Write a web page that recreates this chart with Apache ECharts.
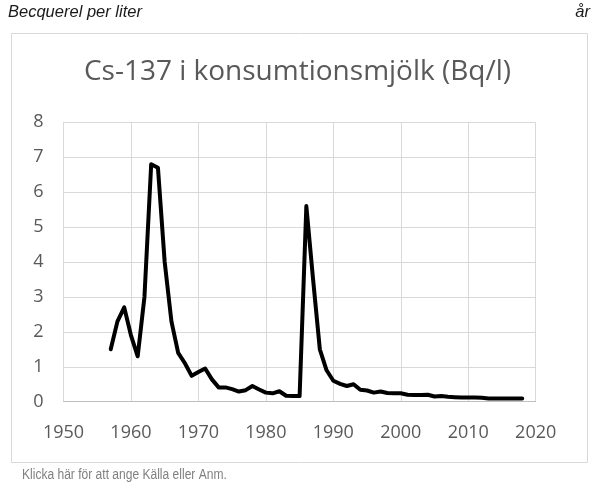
<!DOCTYPE html>
<html><head><meta charset="utf-8">
<script src="https://cdn.jsdelivr.net/npm/echarts@6/dist/echarts.min.js"></script>
<style>html,body{margin:0;padding:0;background:#fff}#c{width:595px;height:486px}</style>
</head><body><div id="c"></div>
<script>
var years = [1957,1958,1959,1960,1961,1962,1963,1964,1965,1966,1967,1968,1969,1970,1971,1972,1973,1974,1975,1976,1977,1978,1979,1980,1981,1982,1983,1984,1985,1986,1987,1988,1989,1990,1991,1992,1993,1994,1995,1996,1997,1998,1999,2000,2001,2002,2003,2004,2005,2006,2007,2008,2009,2010,2011,2012,2013,2014,2015,2016,2017,2018];
var values = [1.5,2.3,2.7,1.9,1.3,3.0,6.8,6.7,4.0,2.3,1.4,1.1,0.74,0.85,0.95,0.64,0.41,0.41,0.36,0.29,0.33,0.45,0.35,0.26,0.24,0.3,0.17,0.16,0.16,5.6,3.5,1.5,0.9,0.6,0.51,0.45,0.5,0.34,0.32,0.26,0.29,0.25,0.24,0.24,0.2,0.19,0.19,0.2,0.15,0.16,0.14,0.13,0.12,0.12,0.12,0.11,0.09,0.09,0.09,0.09,0.09,0.09];
var titleText = 'Cs-137 i konsumtionsmjölk (Bq/l)';
var unitText = 'Becquerel per liter';
var xUnitText = 'år';
var footerText = 'Klicka här för att ange Källa eller Anm.';

var chart = echarts.init(document.getElementById('c'), null, {renderer:'canvas'});
var seriesData = years.map(function(y,i){return [y, values[i]];});
var lab = {color:'#595959', fontSize:18, fontFamily:'Open Sans'};
chart.setOption({
  animation:false,
  backgroundColor:'#ffffff',
  title:{text:titleText, left:'center', top:53, textStyle:{fontFamily:'Open Sans', fontWeight:'normal', fontSize:28, color:'#595959'}},
  grid:{left:63.5, right:59.3, top:122.3, bottom:84.3, containLabel:false},
  xAxis:{type:'value', min:1950, max:2020, interval:10,
    axisLine:{show:true, lineStyle:{color:'#bfbfbf', width:1}},
    axisTick:{show:false},
    axisLabel:Object.assign({margin:22, formatter:function(v){return String(v);}}, lab),
    splitLine:{show:true, lineStyle:{color:'#d9d9d9', width:1}}},
  yAxis:{type:'value', min:0, max:8, interval:1,
    axisLine:{show:false}, axisTick:{show:false},
    axisLabel:Object.assign({margin:20}, lab),
    splitLine:{show:true, lineStyle:{color:'#d9d9d9', width:1}}},
  series:[{type:'line', data:seriesData, showSymbol:false, symbol:'none',
    lineStyle:{color:'#000000', width:4, join:'round', cap:'round'}}],
  graphic:[
    {type:'rect', shape:{x:11.5, y:33.5, width:576, height:429}, style:{fill:null, stroke:'#d9d9d9', lineWidth:1}, z:-1},
    {type:'text', left:8, top:4, style:{text:unitText, font:'italic 16.5px "Liberation Sans"', fill:'#1a1a1a'}},
    {type:'text', right:5, top:4, style:{text:xUnitText, font:'italic 16.5px "Liberation Sans"', fill:'#1a1a1a'}},
    {type:'text', x:22, y:468, scaleX:0.86, style:{text:footerText, font:'14px "Liberation Sans"', fill:'#808080'}}
  ]
});
</script></body></html>
